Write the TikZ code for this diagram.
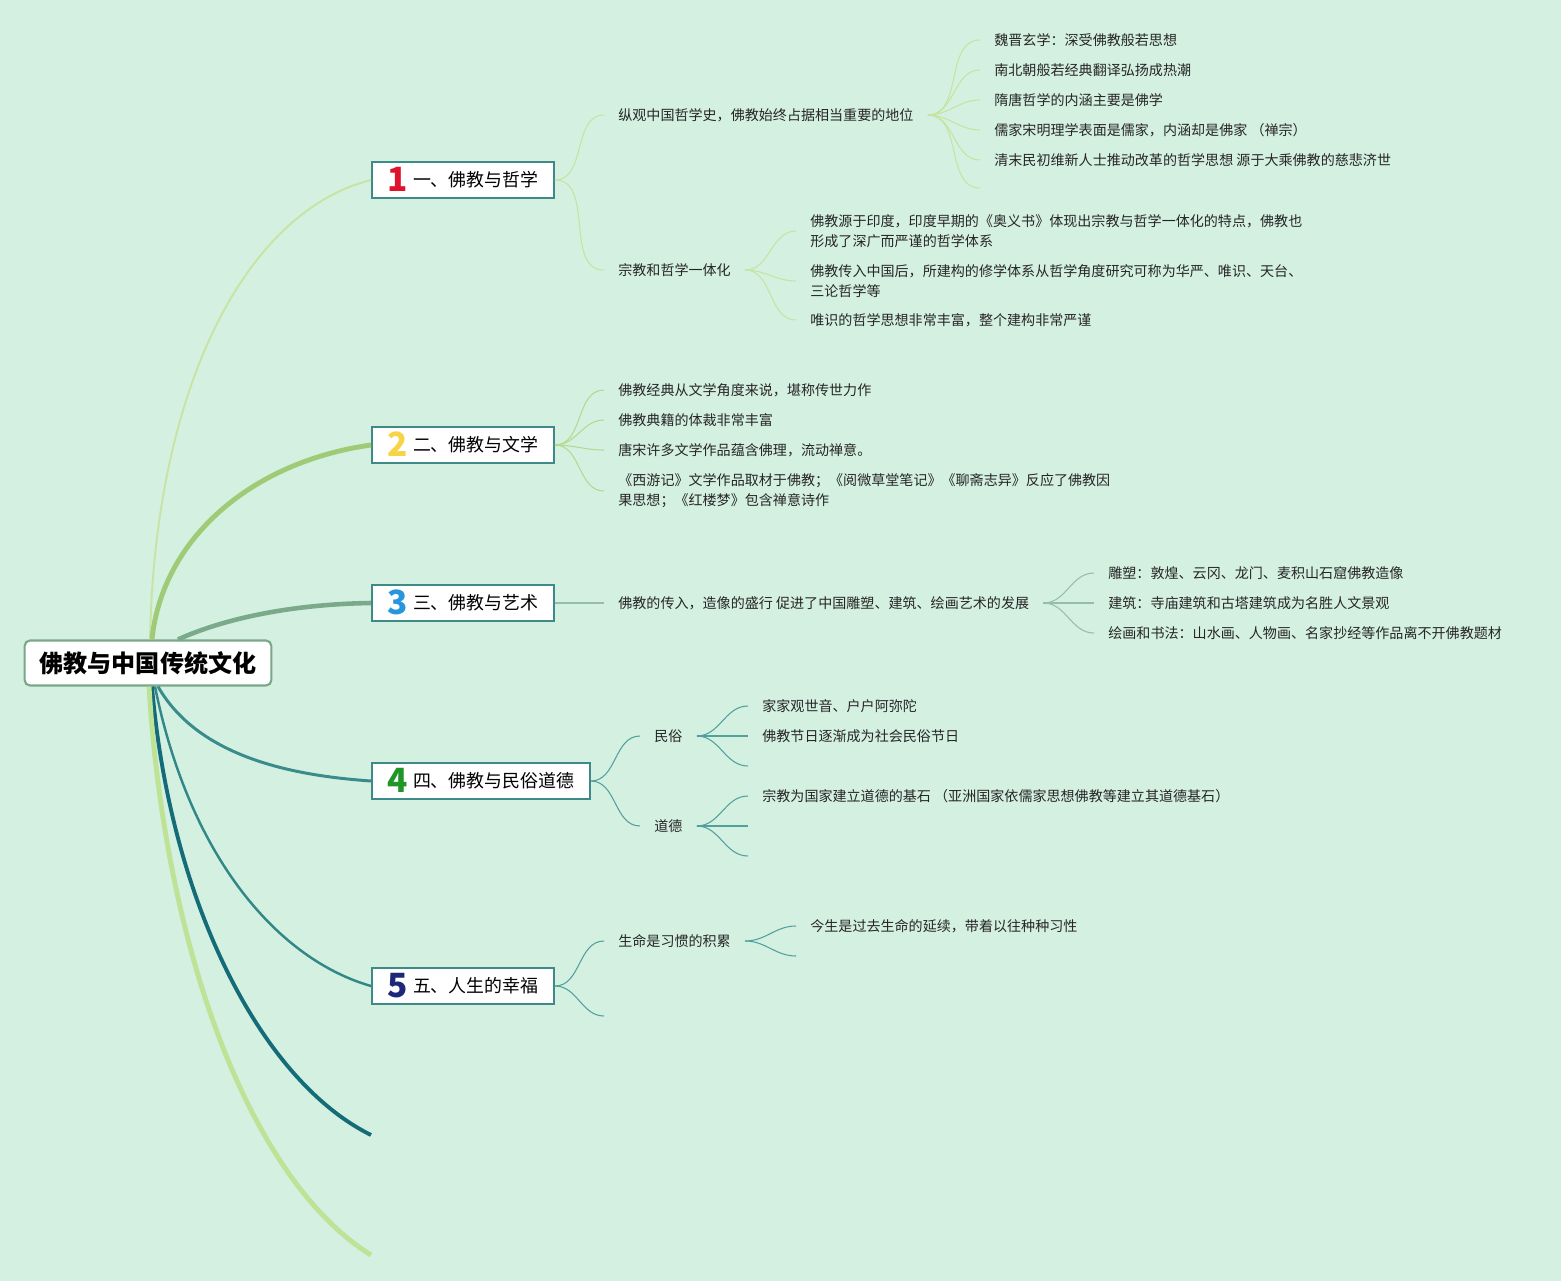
\documentclass[tikz,border=0pt]{standalone}
\usepackage{fontspec}
\setmainfont{Noto Sans CJK SC}
\usepackage{xcolor}
\usepackage{tikz}
\definecolor{bg}{RGB}{212,240,225}
\definecolor{rootline}{RGB}{120,168,136}
\definecolor{boxline}{RGB}{62,138,136}
\definecolor{num1}{RGB}{222,20,45}
\definecolor{num2}{RGB}{246,212,70}
\definecolor{num3}{RGB}{40,150,222}
\definecolor{num4}{RGB}{30,150,40}
\definecolor{num5}{RGB}{30,40,120}
\definecolor{g1}{RGB}{200,228,165}
\definecolor{g2}{RGB}{160,203,118}
\definecolor{g3}{RGB}{122,170,138}
\definecolor{g4}{RGB}{58,140,140}
\definecolor{g5}{RGB}{50,135,135}
\definecolor{g6}{RGB}{20,108,120}
\definecolor{g7}{RGB}{190,226,150}
\definecolor{t1}{RGB}{196,228,160}
\definecolor{t2}{RGB}{178,218,140}
\definecolor{t3}{RGB}{150,190,165}
\definecolor{t4}{RGB}{80,160,158}
\newcommand{\bnum}[2]{\raisebox{-2.8pt}{\fontsize{19pt}{19pt}\bfseries\color{#1}#2}\hspace{3pt}}

\begin{document}
\begin{tikzpicture}[x=0.02cm,y=-0.02cm,
	root/.style={draw=rootline,line width=1.2pt,rounded corners=3pt,fill=white,inner xsep=0.3cm,minimum height=0.9cm,font=\fontsize{13.7pt}{16pt}\bfseries},
	branch/.style={draw=boxline,line width=1.1pt,fill=white,anchor=west,inner xsep=0.31cm,text height=11pt,text depth=3.2pt,minimum height=0.72cm,font=\fontsize{10.2pt}{12pt}\selectfont},
	leaf/.style={anchor=west,inner xsep=0.28cm,inner ysep=1pt,text=black!85,align=left,font=\fontsize{8pt}{11.3pt}\selectfont},
	twig/.style={out=0,in=180,line width=0.6pt}]
		\fill[bg] (0,0) rectangle (1561,1281);

		\node[root] (root) at (148,663) {佛教与中国传统文化};
		\node[branch] (b1) at (371,180) {\bnum{num1}{1}一、佛教与哲学};
		\node[branch] (b2) at (371,445) {\bnum{num2}{2}二、佛教与文学};
		\node[branch] (b3) at (371,603) {\bnum{num3}{3}三、佛教与艺术};
		\node[branch] (b4) at (371,781) {\bnum{num4}{4}四、佛教与民俗道德};
		\node[branch] (b5) at (371,986) {\bnum{num5}{5}五、人生的幸福};
		\coordinate (b6) at (371,1135);
		\coordinate (b7) at (371,1255);

		\draw[g1,line width=1.1pt] ([xshift=0.04cm]root.north) .. controls (155,380) and (250,210) .. (b1.west);
		\draw[g2,line width=2.8pt] ([xshift=0.08cm]root.north) .. controls (162,540) and (250,462) .. (b2.west);
		\draw[g3,line width=2.6pt] ([xshift=0.6cm]root.north) .. controls (230,616) and (300,604) .. (b3.west);
		\draw[g4,line width=1.7pt] ([xshift=0.2cm]root.south) .. controls (200,760) and (300,776) .. (b4.west);
		\draw[g5,line width=1.4pt] ([xshift=0.14cm]root.south) .. controls (190,860) and (280,960) .. (b5.west);
		\draw[g6,line width=2.2pt] ([xshift=0.08cm]root.south) .. controls (170,900) and (260,1080) .. (b6);
		\draw[g7,line width=2.8pt] ([xshift=0.02cm]root.south) .. controls (165,950) and (250,1180) .. (b7);

		\node[leaf] (s11) at (604,115) {纵观中国哲学史，佛教始终占据相当重要的地位};
		\node[leaf] (s12) at (604,270) {宗教和哲学一体化};
		\node[leaf] (l111) at (980,40) {魏晋玄学：深受佛教般若思想};
		\node[leaf] (l112) at (980,70) {南北朝般若经典翻译弘扬成热潮};
		\node[leaf] (l113) at (980,100) {隋唐哲学的内涵主要是佛学};
		\node[leaf] (l114) at (980,130) {儒家宋明理学表面是儒家，内涵却是佛家 （禅宗）};
		\node[leaf] (l115) at (980,160) {清末民初维新人士推动改革的哲学思想 源于大乘佛教的慈悲济世};
		\coordinate (e11) at (980,188);
		\node[leaf] (l121) at (796,231) {佛教源于印度，印度早期的《奥义书》体现出宗教与哲学一体化的特点，佛教也\\形成了深广而严谨的哲学体系};
		\node[leaf] (l122) at (796,281) {佛教传入中国后，所建构的修学体系从哲学角度研究可称为华严、唯识、天台、\\三论哲学等};
		\node[leaf] (l123) at (796,320) {唯识的哲学思想非常丰富，整个建构非常严谨};

		\node[leaf] (l21) at (604,390) {佛教经典从文学角度来说，堪称传世力作};
		\node[leaf] (l22) at (604,420) {佛教典籍的体裁非常丰富};
		\node[leaf] (l23) at (604,450) {唐宋许多文学作品蕴含佛理，流动禅意。};
		\node[leaf] (l24) at (604,491) {《西游记》文学作品取材于佛教；《阅微草堂笔记》《聊斋志异》反应了佛教因\\果思想；《红楼梦》包含禅意诗作};

		\node[leaf] (s31) at (604,603) {佛教的传入，造像的盛行 促进了中国雕塑、建筑、绘画艺术的发展};
		\node[leaf] (l311) at (1094,573) {雕塑：敦煌、云冈、龙门、麦积山石窟佛教造像};
		\node[leaf] (l312) at (1094,603) {建筑：寺庙建筑和古塔建筑成为名胜人文景观};
		\node[leaf] (l313) at (1094,633) {绘画和书法：山水画、人物画、名家抄经等作品离不开佛教题材};

		\node[leaf] (s41) at (640,736) {民俗};
		\node[leaf] (s42) at (640,826) {道德};
		\node[leaf] (l411) at (748,706) {家家观世音、户户阿弥陀};
		\node[leaf] (l412) at (748,736) {佛教节日逐渐成为社会民俗节日};
		\coordinate (e41) at (748,766);
		\node[leaf] (l421) at (748,796) {宗教为国家建立道德的基石 （亚洲国家依儒家思想佛教等建立其道德基石）};
		\coordinate (e42) at (748,826);
		\coordinate (e43) at (748,856);

		\node[leaf] (s51) at (604,941) {生命是习惯的积累};
		\coordinate (e51) at (604,1016);
		\node[leaf] (l511) at (796,926) {今生是过去生命的延续，带着以往种种习性};
		\coordinate (e52) at (796,956);

		\draw[t1] (b1.east) edge[twig] (s11.west)
				(b1.east) edge[twig] (s12.west)
				(s11.east) edge[twig] (l111.west)
				(s11.east) edge[twig] (l112.west)
				(s11.east) edge[twig] (l113.west)
				(s11.east) edge[twig] (l114.west)
				(s11.east) edge[twig] (l115.west)
				(s11.east) edge[twig] (e11)
				(s12.east) edge[twig] (l121.west)
				(s12.east) edge[twig] (l122.west)
				(s12.east) edge[twig] (l123.west);
		\draw[t2] (b2.east) edge[twig] (l21.west)
				(b2.east) edge[twig] (l22.west)
				(b2.east) edge[twig] (l23.west)
				(b2.east) edge[twig] (l24.west);
		\draw[t3] (b3.east) edge[twig] (s31.west)
				(s31.east) edge[twig] (l311.west)
				(s31.east) edge[twig] (l312.west)
				(s31.east) edge[twig] (l313.west);
		\draw[t4] (b4.east) edge[twig] (s41.west)
				(b4.east) edge[twig] (s42.west)
				(s41.east) edge[twig] (l411.west)
				(s41.east) edge[twig] (l412.west)
				(s41.east) edge[twig] (e41)
				(s42.east) edge[twig] (l421.west)
				(s42.east) edge[twig] (e42)
				(s42.east) edge[twig] (e43)
				(b5.east) edge[twig] (s51.west)
				(b5.east) edge[twig] (e51)
				(s51.east) edge[twig] (l511.west)
				(s51.east) edge[twig] (e52);
	\end{tikzpicture}
\end{document}
